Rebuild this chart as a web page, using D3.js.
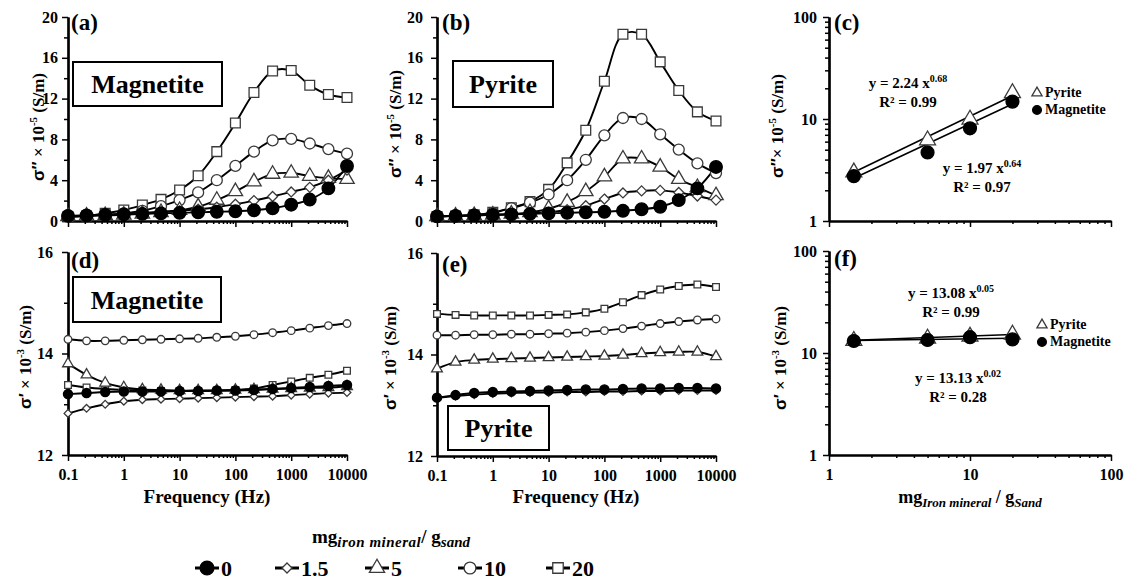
<!DOCTYPE html>
<html lang="en">
<head>
<meta charset="utf-8">
<title>Iron mineral SIP</title>
<script src="https://d3js.org/d3.v7.min.js"></script>
<style>
  body { margin: 0; background: #fff; }
  svg text { font-family: "Liberation Serif", "Times New Roman", serif; font-weight: bold; fill: #000; }
</style>
</head>
<body>
<script>
const width = 1127, height = 585;

// Data
const freq = [0.1, 0.215, 0.464, 1, 2.15, 4.64, 10, 21.5, 46.4, 100, 215, 464, 1000, 2150, 4640, 10000];
const loadings = ["0", "1.5", "5", "10", "20"];
const markerTypes = ["filled", "diamond", "triangle", "circle", "square"];

// sigma'' x 1e-5 S/m, one row per loading (0, 1.5, 5, 10, 20)
const magImag = [
  [0.5, 0.55, 0.6, 0.65, 0.7, 0.75, 0.8, 0.85, 0.9, 0.95, 1.05, 1.25, 1.6, 2.1, 3.2, 5.4],
  [0.5, 0.55, 0.6, 0.7, 0.8, 0.9, 1.0, 1.15, 1.35, 1.65, 2.0, 2.4, 2.85, 3.3, 4.0, 5.0],
  [0.45, 0.5, 0.55, 0.6, 0.7, 0.85, 1.05, 1.4, 2.05, 2.9, 3.85, 4.6, 4.7, 4.4, 4.2, 4.1],
  [0.45, 0.5, 0.6, 0.75, 1.0, 1.45, 2.05, 2.8, 4.0, 5.4, 6.8, 7.9, 8.05, 7.6, 7.05, 6.6],
  [0.42, 0.49, 0.75, 1.08, 1.57, 2.12, 3.04, 4.44, 6.8, 9.6, 12.6, 14.7, 14.75, 13.3, 12.4, 12.1]
];
const pyrImag = [
  [0.45, 0.5, 0.55, 0.6, 0.65, 0.7, 0.75, 0.8, 0.85, 0.9, 1.0, 1.15, 1.4, 2.05, 3.2, 5.3],
  [0.45, 0.5, 0.55, 0.6, 0.65, 0.75, 0.85, 1.1, 1.5, 2.15, 2.75, 2.95, 3.0, 2.8, 2.45, 2.05],
  [0.45, 0.5, 0.55, 0.6, 0.7, 0.85, 1.2, 1.85, 2.9, 4.35, 6.1, 6.1, 5.3, 4.1, 3.3, 2.5],
  [0.45, 0.5, 0.6, 0.8, 1.25, 1.8, 2.6, 4.0, 6.0, 8.4, 10.1, 10.0, 8.5, 7.0, 5.65, 4.7],
  [0.45, 0.5, 0.6, 0.85, 1.3, 1.9, 3.1, 5.7, 8.9, 13.7, 18.3, 18.3, 15.6, 12.8, 10.7, 9.8]
];
// sigma' x 1e-3 S/m
const magReal = [
  [13.2, 13.22, 13.24, 13.25, 13.25, 13.25, 13.26, 13.26, 13.27, 13.27, 13.28, 13.3, 13.32, 13.34, 13.36, 13.38],
  [12.82, 12.92, 13.0, 13.06, 13.09, 13.1, 13.11, 13.12, 13.13, 13.14, 13.15, 13.16, 13.18, 13.2, 13.22, 13.23],
  [13.8, 13.58, 13.42, 13.33, 13.29, 13.28, 13.27, 13.27, 13.27, 13.28, 13.29, 13.3, 13.31, 13.32, 13.33, 13.35],
  [14.28, 14.25, 14.25, 14.26, 14.27, 14.28, 14.29, 14.3, 14.32, 14.34, 14.37, 14.41, 14.45, 14.5, 14.55, 14.59],
  [13.38, 13.33, 13.3, 13.28, 13.27, 13.26, 13.26, 13.26, 13.27, 13.28, 13.31, 13.38, 13.45, 13.52, 13.58, 13.66]
];
const pyrReal = [
  [13.15, 13.2, 13.24, 13.26, 13.27, 13.28, 13.29, 13.3, 13.31, 13.31, 13.32, 13.33, 13.33, 13.34, 13.34, 13.33],
  [13.14, 13.18, 13.21, 13.23, 13.24, 13.25, 13.25, 13.26, 13.26, 13.27, 13.27, 13.28, 13.28, 13.29, 13.29, 13.29],
  [13.72, 13.85, 13.89, 13.91, 13.92, 13.93, 13.94, 13.95, 13.96, 13.97, 13.99, 14.02, 14.04, 14.05, 14.05, 13.96],
  [14.38, 14.38, 14.39, 14.39, 14.4, 14.4, 14.41, 14.42, 14.44, 14.47, 14.51, 14.56, 14.61, 14.65, 14.68, 14.7],
  [14.8, 14.78, 14.77, 14.77, 14.77, 14.77, 14.78, 14.79, 14.83, 14.9, 15.03, 15.17, 15.28, 15.35, 15.38, 15.33]
];

// (c) and (f): value vs loading
const massX = [1.5, 5, 10, 20];
const pyrImagMass = [3.0, 6.2, 9.9, 18.0];
const magImagMass = [2.75, 4.7, 8.1, 14.8];
const pyrRealMass = [13.2, 13.9, 14.5, 15.2];
const magRealMass = [13.1, 13.4, 14.3, 13.6];
const fitX = [1.5, 20];
const pyrImagFit = [3.0, 16.9];
const magImagFit = [2.62, 14.0];
const pyrRealFit = [13.35, 15.2];
const magRealFit = [13.24, 13.93];

const svg = d3.select("body").append("svg")
  .attr("width", width)
  .attr("height", height);

// Symbols
const diamondSym = {
  draw(ctx, size) {
    const r = Math.sqrt(size / 2);
    ctx.moveTo(0, -r); ctx.lineTo(r, 0); ctx.lineTo(0, r); ctx.lineTo(-r, 0); ctx.closePath();
  }
};
const symTypes = { filled: d3.symbolCircle, diamond: diamondSym, triangle: d3.symbolTriangle, circle: d3.symbolCircle, square: d3.symbolSquare };
const bigSizes = { filled: 125, diamond: 50, triangle: 90, circle: 95, square: 95 };
const smallSizes = { filled: 66, diamond: 30, triangle: 50, circle: 45, square: 45 };

function marker(g, type, size, x, y) {
  g.append("path")
    .attr("transform", `translate(${x},${y})`)
    .attr("d", d3.symbol().type(symTypes[type]).size(size)())
    .attr("fill", type === "filled" ? "#000" : "#fff")
    .attr("stroke", type === "filled" ? "#000" : "#3a3a3a")
    .attr("stroke-width", 1.3);
}

function logTicks(lo, hi) {
  const s = d3.scaleLog().domain([lo, hi]);
  const all = s.ticks();
  const major = all.filter(v => Math.abs(Math.log10(v) - Math.round(Math.log10(v))) < 1e-9);
  const minor = all.filter(v => !major.includes(v));
  return { major, minor };
}

function axes(xs, ys, o) {
  const g = svg.append("g");
  const yb = ys.range()[0], xl = xs.range()[0];
  // x axis
  g.append("g").attr("transform", `translate(0,${yb})`)
    .call(d3.axisBottom(xs).tickValues(o.xMinor).tickSize(3).tickSizeOuter(0).tickFormat(""));
  g.append("g").attr("transform", `translate(0,${yb})`)
    .call(d3.axisBottom(xs).tickValues(o.xMajor).tickSize(6).tickSizeOuter(0).tickPadding(8)
      .tickFormat(o.xLabels ? d => d3.format("~g")(d) : ""));
  // y axis
  g.append("g").attr("transform", `translate(${xl},0)`)
    .call(d3.axisLeft(ys).tickValues(o.yMinor).tickSize(4).tickSizeOuter(0).tickFormat(""));
  g.append("g").attr("transform", `translate(${xl},0)`)
    .call(d3.axisLeft(ys).tickValues(o.yMajor).tickSize(6).tickSizeOuter(0).tickPadding(o.pad)
      .tickFormat(d => d3.format("~g")(d)));
  g.selectAll(".domain").attr("stroke", "#000").attr("stroke-width", 2.2);
  g.selectAll(".tick line").attr("stroke", "#000").attr("stroke-width", 1.5);
  g.selectAll(".tick text").style("font-family", "'Liberation Serif', serif")
    .style("font-weight", "bold").style("font-size", "16px").attr("fill", "#000");
}

function panelLabel(txt, x, y) {
  svg.append("text").attr("x", x).attr("y", y).style("font-size", "23px").text(txt);
}

function nameBox(txt, x, y, w, h) {
  svg.append("rect").attr("x", x).attr("y", y).attr("width", w).attr("height", h)
    .attr("fill", "#fff").attr("stroke", "#000").attr("stroke-width", 2);
  svg.append("text").attr("x", x + w / 2).attr("y", y + h / 2 + 9)
    .attr("text-anchor", "middle").style("font-size", "26px").text(txt);
}

function yTitle(x, y, prime, expo, gap) {
  const t = svg.append("text")
    .attr("transform", `translate(${x},${y}) rotate(-90)`)
    .attr("text-anchor", "middle").attr("dy", "0.35em").style("font-size", "17px");
  t.append("tspan").style("font-family", "'Liberation Sans', Arial, sans-serif").text("σ" + prime);
  t.append("tspan").text((gap ? " " : "") + "× 10");
  t.append("tspan").attr("dy", -7).style("font-size", "11px").text(expo);
  t.append("tspan").attr("dy", 7).text(" (S/m)");
}

function freqPanel(xRange, yRange, yDom, rows, o) {
  const xs = d3.scaleLog().domain([0.1, 10000]).range(xRange);
  const ys = d3.scaleLinear().domain(yDom).range(yRange);
  const lt = logTicks(0.1, 10000);
  axes(xs, ys, { xMajor: lt.major, xMinor: lt.minor, xLabels: o.xLabels, yMajor: o.yMajor, yMinor: o.yMinor, pad: o.pad });
  const line = d3.line().x((d, i) => xs(freq[i])).y(d => ys(d)).curve(d3.curveCatmullRom.alpha(0.5));
  const g = svg.append("g");
  rows.forEach(r => {
    g.append("path").attr("d", line(r)).attr("fill", "none").attr("stroke", "#000").attr("stroke-width", 1.9);
  });
  const sizes = o.small ? smallSizes : bigSizes;
  for (let s = rows.length - 1; s >= 0; s--) {
    rows[s].forEach((v, i) => marker(g, markerTypes[s], sizes[markerTypes[s]], xs(freq[i]), ys(v)));
  }
}

function massPanel(xRange, yRange, pyr, mag, pyrFit, magFit, fits, legendXY, xLabels) {
  const xs = d3.scaleLog().domain([1, 100]).range(xRange);
  const ys = d3.scaleLog().domain([1, 100]).range(yRange);
  const lt = logTicks(1, 100);
  axes(xs, ys, { xMajor: lt.major, xMinor: lt.minor, xLabels: xLabels, yMajor: lt.major, yMinor: lt.minor, pad: 6 });
  const g = svg.append("g");
  const fl = d3.line().x((d, i) => xs(fitX[i])).y(d => ys(d));
  g.append("path").attr("d", fl(pyrFit)).attr("fill", "none").attr("stroke", "#000").attr("stroke-width", 1.6);
  g.append("path").attr("d", fl(magFit)).attr("fill", "none").attr("stroke", "#000").attr("stroke-width", 1.6);
  pyr.forEach((v, i) => marker(g, "triangle", 110, xs(massX[i]), ys(v)));
  mag.forEach((v, i) => marker(g, "filled", 130, xs(massX[i]), ys(v)));
  fits.forEach(f => {
    const t = svg.append("text").attr("x", f.x).attr("y", f.y).attr("text-anchor", "middle").style("font-size", "15px");
    t.append("tspan").text("y = " + f.a + " x");
    t.append("tspan").attr("dy", -6).style("font-size", "10px").text(f.b);
    svg.append("text").attr("x", f.x).attr("y", f.y + 19).attr("text-anchor", "middle")
      .style("font-size", "15px").text("R² = " + f.r2);
  });
  const [lx, ly] = legendXY;
  marker(svg, "triangle", 45, lx, ly - 4);
  svg.append("text").attr("x", lx + 8).attr("y", ly).style("font-size", "14px").text("Pyrite");
  marker(svg, "filled", 60, lx, ly + 13);
  svg.append("text").attr("x", lx + 8).attr("y", ly + 17).style("font-size", "14px").text("Magnetite");
}

// Panels (a) and (b): sigma''
freqPanel([68, 347], [221, 17], [0, 20], magImag, { xLabels: false, yMajor: [0, 4, 8, 12, 16, 20], yMinor: [2, 6, 10, 14, 18], pad: 4 });
freqPanel([437, 716], [221, 17], [0, 20], pyrImag, { xLabels: false, yMajor: [0, 4, 8, 12, 16, 20], yMinor: [2, 6, 10, 14, 18], pad: 8 });
// Panels (d) and (e): sigma'
freqPanel([68, 347], [455, 252], [12, 16], magReal, { xLabels: true, yMajor: [12, 14, 16], yMinor: [13, 15], pad: 9, small: true });
freqPanel([437, 716], [456, 253], [12, 16], pyrReal, { xLabels: true, yMajor: [12, 14, 16], yMinor: [13, 15], pad: 8, small: true });

// Panels (c) and (f)
massPanel([829, 1111], [221, 17], pyrImagMass, magImagMass, pyrImagFit, magImagFit,
  [{ x: 908, y: 88, a: "2.24", b: "0.68", r2: "0.99" }, { x: 982, y: 173, a: "1.97", b: "0.64", r2: "0.97" }],
  [1037, 97], false);
massPanel([829, 1111], [455, 251], pyrRealMass, magRealMass, pyrRealFit, magRealFit,
  [{ x: 951, y: 298, a: "13.08", b: "0.05", r2: "0.99" }, { x: 958, y: 383, a: "13.13", b: "0.02", r2: "0.28" }],
  [1042, 329], true);

// Labels and boxes
panelLabel("(a)", 71, 30);
panelLabel("(b)", 442, 30);
panelLabel("(c)", 834, 30);
panelLabel("(d)", 71, 268);
panelLabel("(e)", 442, 272);
panelLabel("(f)", 834, 266);
nameBox("Magnetite", 73, 62, 149, 44);
nameBox("Pyrite", 453, 61, 100, 46);
nameBox("Magnetite", 73, 277, 148, 45);
nameBox("Pyrite", 448, 406, 101, 44);

yTitle(38, 127, "″", "-5", true);
yTitle(395, 124, "″", "-5", true);
yTitle(777, 126, "″", "-5", false);
yTitle(25, 357, "′", "-3", true);
yTitle(390, 358, "′", "-3", true);
yTitle(780, 358, "′", "-3", true);

svg.append("text").attr("x", 207).attr("y", 503).attr("text-anchor", "middle").style("font-size", "19px").text("Frequency (Hz)");
svg.append("text").attr("x", 576).attr("y", 503).attr("text-anchor", "middle").style("font-size", "19px").text("Frequency (Hz)");

const xl = svg.append("text").attr("x", 970).attr("y", 503).attr("text-anchor", "middle").style("font-size", "18px");
xl.append("tspan").text("mg");
xl.append("tspan").attr("dy", 4).style("font-size", "13px").style("font-style", "italic").text("Iron mineral");
xl.append("tspan").attr("dy", -4).text(" / g");
xl.append("tspan").attr("dy", 4).style("font-size", "13px").style("font-style", "italic").text("Sand");

// Legend
const lt = svg.append("text").attr("x", 391).attr("y", 543).attr("text-anchor", "middle").style("font-size", "19px");
lt.append("tspan").text("mg");
lt.append("tspan").attr("dy", 4).style("font-size", "15px").style("font-style", "italic").style("letter-spacing", "0.5px").text("iron mineral");
lt.append("tspan").attr("dy", -4).text("/ g");
lt.append("tspan").attr("dy", 4).style("font-size", "15px").style("font-style", "italic").text("sand");

const legendX = [207, 287, 377, 470, 558];
const legendSizes = { filled: 150, diamond: 50, triangle: 100, circle: 110, square: 110 };
loadings.forEach((lab, i) => {
  const cx = legendX[i];
  svg.append("line").attr("x1", cx - 12).attr("x2", cx + 12).attr("y1", 568).attr("y2", 568)
    .attr("stroke", "#000").attr("stroke-width", 3);
  marker(svg, markerTypes[i], legendSizes[markerTypes[i]], cx, 568);
  svg.append("text").attr("x", cx + 14).attr("y", 576).style("font-size", "22px").text(lab);
});
</script>
</body>
</html>
